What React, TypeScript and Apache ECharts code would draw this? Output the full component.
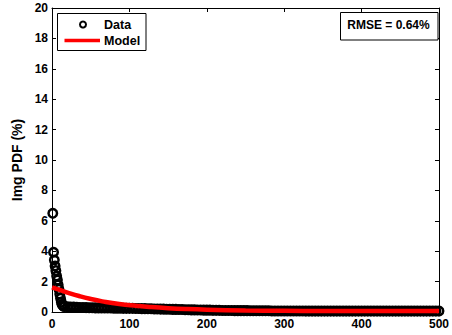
import React, { useEffect, useRef } from "react";
import * as echarts from "echarts";

// Measured PDF values (%) for the first intensity levels 1..15
const headY = [6.49, 3.93, 3.42, 3.03, 2.72, 2.37, 2.1, 1.78, 1.49, 1.18, 0.9, 0.65, 0.5, 0.42, 0.38];
// Measured PDF values (%) from level 16 onward, sampled every 4 levels up to 500
const tailStart = 16;
const tailStep = 4;
const tailY = [
  0.36, 0.34, 0.33, 0.32, 0.31, 0.3, 0.3, 0.29, 0.28, 0.28, 0.27, 0.27, 0.27, 0.26, 0.26, 0.26, 0.25, 0.25, 0.25, 0.24, 0.24, 0.24,
  0.24, 0.23, 0.23, 0.22, 0.22, 0.21, 0.21, 0.2, 0.2, 0.19,
  0.19, 0.18, 0.18, 0.17, 0.17, 0.16, 0.16, 0.15, 0.15, 0.14,
  0.14, 0.13, 0.13, 0.12, 0.12, 0.12, 0.11, 0.11, 0.11, 0.1,
  0.1, 0.1, 0.1, 0.09, 0.09, 0.09, 0.09, 0.09, 0.08, 0.08,
  0.08, 0.08, 0.08, 0.08, 0.08, 0.07, 0.07, 0.07, 0.07, 0.07,
  0.07, 0.07, 0.07, 0.07, 0.07, 0.07, 0.06, 0.06, 0.06, 0.06,
  0.06, 0.06, 0.06, 0.06, 0.06, 0.06, 0.06, 0.06, 0.06, 0.06,
  0.06, 0.06, 0.06, 0.06, 0.06, 0.06, 0.06, 0.06, 0.06, 0.06,
  0.06, 0.06, 0.06, 0.06, 0.06, 0.06, 0.06, 0.06, 0.06, 0.06,
  0.06, 0.06, 0.06, 0.06, 0.06, 0.06, 0.06, 0.06, 0.06, 0.06,
];

// Fitted model curve
const modelX = [0, 10, 23, 35, 49, 65, 87, 110, 126, 150, 175, 200, 250, 300, 350, 400, 450, 500];
const modelY = [1.62, 1.45, 1.23, 1.05, 0.87, 0.7, 0.52, 0.4, 0.33, 0.25, 0.19, 0.15, 0.1, 0.08, 0.07, 0.065, 0.06, 0.06];

const rmseText = "RMSE = 0.64%";
const yAxisTitle = "Img PDF (%)";

const FONT = "'Liberation Sans', Arial, Helvetica, sans-serif";

export default function App() {
  const ref = useRef<HTMLDivElement>(null);

  useEffect(() => {
    if (!ref.current) return;
    const chart = echarts.init(ref.current, undefined, { renderer: "svg" });

    const dataPts: number[][] = [];
    headY.forEach((v, i) => dataPts.push([i + 1, v]));
    tailY.forEach((v, i) => dataPts.push([tailStart + i * tailStep, v]));
    const modelPts = modelX.map((x, i) => [x, modelY[i]]);

    const grid = { left: 52, right: 11, top: 8, bottom: 23 };
    const lbl = { color: "#000", fontFamily: FONT, fontWeight: "bold" as const, fontSize: 12 };

    chart.setOption({
      animation: false,
      backgroundColor: "#fff",
      grid,
      xAxis: [
        {
          type: "value",
          min: 0,
          max: 500,
          interval: 100,
          axisLine: { show: true, lineStyle: { color: "#000", width: 1 } },
          axisTick: { show: true, inside: true, length: 4, lineStyle: { color: "#000" } },
          axisLabel: { ...lbl, margin: 6 },
          splitLine: { show: false },
        },
        {
          type: "value",
          position: "top",
          min: 0,
          max: 500,
          interval: 100,
          axisLine: { show: true, onZero: false, lineStyle: { color: "#000", width: 1 } },
          axisTick: { show: true, inside: true, length: 4, lineStyle: { color: "#000" } },
          axisLabel: { show: false },
          splitLine: { show: false },
        },
      ],
      yAxis: [
        {
          type: "value",
          min: 0,
          max: 20,
          interval: 2,
          name: yAxisTitle,
          nameLocation: "middle",
          nameGap: 26,
          nameTextStyle: { color: "#000", fontFamily: FONT, fontWeight: "bold", fontSize: 14 },
          axisLine: { show: true, lineStyle: { color: "#000", width: 1 } },
          axisTick: { show: true, inside: true, length: 4, lineStyle: { color: "#000" } },
          axisLabel: { ...lbl, margin: 4 },
          splitLine: { show: false },
        },
        {
          type: "value",
          position: "right",
          min: 0,
          max: 20,
          interval: 2,
          axisLine: { show: true, onZero: false, lineStyle: { color: "#000", width: 1 } },
          axisTick: { show: true, inside: true, length: 4, lineStyle: { color: "#000" } },
          axisLabel: { show: false },
          splitLine: { show: false },
        },
      ],
      series: [
        {
          name: "Data",
          type: "scatter",
          data: dataPts,
          symbol: "circle",
          symbolSize: 8.5,
          clip: false,
          itemStyle: { color: "rgba(255,255,255,0)", borderColor: "#000", borderWidth: 2.5, opacity: 1 },
          z: 2,
        },
        {
          name: "Model",
          type: "line",
          data: modelPts,
          smooth: true,
          showSymbol: false,
          clip: false,
          lineStyle: { color: "#ff0000", width: 4.5, opacity: 1 },
          z: 8,
        },
      ],
      graphic: [
        // legend box
        {
          type: "rect",
          shape: { x: 57.5, y: 13.5, width: 88.5, height: 37 },
          style: { fill: "#fff", stroke: "#000", lineWidth: 1 },
          z: 10,
        },
        {
          type: "circle",
          shape: { cx: 83, cy: 24.5, r: 3 },
          style: { fill: "none", stroke: "#000", lineWidth: 2 },
          z: 11,
        },
        {
          type: "text",
          x: 104,
          y: 24.5,
          style: { text: "Data", fill: "#000", font: `bold 12.5px ${FONT}`, verticalAlign: "middle", align: "left" },
          z: 11,
        },
        {
          type: "line",
          shape: { x1: 64.5, y1: 40.5, x2: 100, y2: 40.5 },
          style: { stroke: "#ff0000", lineWidth: 3.5 },
          z: 11,
        },
        {
          type: "text",
          x: 104,
          y: 40.5,
          style: { text: "Model", fill: "#000", font: `bold 12.5px ${FONT}`, verticalAlign: "middle", align: "left" },
          z: 11,
        },
        // RMSE annotation
        {
          type: "rect",
          shape: { x: 340.5, y: 12.5, width: 97.5, height: 27.5 },
          style: { fill: "#fff", stroke: "#000", lineWidth: 1 },
          z: 10,
        },
        {
          type: "text",
          x: 388.5,
          y: 25,
          style: { text: rmseText, fill: "#000", font: `bold 12px ${FONT}`, verticalAlign: "middle", align: "center" },
          z: 11,
        },
      ],
    });

    return () => chart.dispose();
  }, []);

  return <div ref={ref} style={{ position: "fixed", left: 0, top: 0, width: 452, height: 335 }} />;
}
